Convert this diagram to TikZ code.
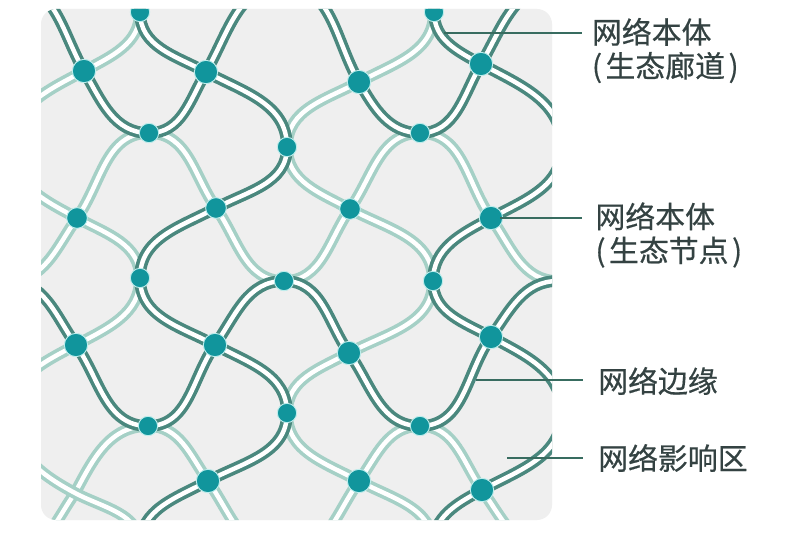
\documentclass[tikz,border=0pt]{standalone}
\usepackage{fontspec}
\newfontfamily\cjk[FakeBold=0.5]{Noto Sans CJK SC}
\definecolor{dkline}{HTML}{4A887E}
\definecolor{ltline}{HTML}{A5D0C6}
\definecolor{dotc}{HTML}{11959C}
\definecolor{halo}{HTML}{BDEDEC}
\definecolor{panel}{HTML}{EFEFEF}
\definecolor{txt}{HTML}{344242}
\definecolor{leader}{HTML}{386C60}
\begin{document}
\begin{tikzpicture}[x=0.03cm,y=0.03cm,
  dk/.style={draw=dkline, double=white, line width=3.1pt, double distance=3.8pt},
  lt/.style={draw=ltline, double=white, line width=3.1pt, double distance=3.8pt},
  bigdot/.style={circle, fill=dotc, draw=halo, line width=0.8pt, inner sep=0pt, minimum size=0.7cm},
  middot/.style={circle, fill=dotc, draw=halo, line width=0.8pt, inner sep=0pt, minimum size=0.62cm},
  smalldot/.style={circle, fill=dotc, draw=halo, line width=0.8pt, inner sep=0pt, minimum size=0.58cm},
  lbl/.style={anchor=west, inner sep=0pt, align=left, text=txt, font=\cjk\fontsize{25.5}{28.9}\selectfont},
  ldr/.style={draw=leader, line width=1.3pt}]
\useasboundingbox (0,0) rectangle (800,-536);
\fill[white] (0,0) rectangle (800,-536);
\fill[panel, rounded corners=12.8pt] (41,-9) rectangle (552,-520);
% lattice points
\coordinate (A0) at (12,15);   \coordinate (A2) at (284,15);  \coordinate (A4) at (558,15);
\coordinate (A1) at (140,-12); \coordinate (A3) at (434,-12);
\coordinate (B0) at (-60,-71); \coordinate (B1) at (84,-71); \coordinate (B2) at (206,-72);
\coordinate (B3) at (359,-82); \coordinate (B4) at (481,-64); \coordinate (B5) at (630,-71);
\coordinate (C0) at (12,-147); \coordinate (C1) at (149,-133); \coordinate (C2) at (287,-147);
\coordinate (C3) at (420,-133); \coordinate (C4) at (562,-147);
\coordinate (Dm) at (-60,-210); \coordinate (D1) at (77,-218); \coordinate (D2) at (216,-208);
\coordinate (D3) at (350,-209); \coordinate (D4) at (491,-218); \coordinate (D5) at (625,-210);
\coordinate (E0) at (8,-281); \coordinate (E1) at (140,-278); \coordinate (E2) at (284,-281);
\coordinate (E3) at (433,-281); \coordinate (E4) at (558,-281);
\coordinate (Fm) at (-60,-345); \coordinate (F1) at (76,-345); \coordinate (F2) at (215,-345);
\coordinate (F3) at (349,-353); \coordinate (F4) at (491,-337); \coordinate (F5) at (625,-345);
\coordinate (G0) at (12,-413); \coordinate (G1) at (148,-426); \coordinate (G2) at (287,-413);
\coordinate (G3) at (420,-426); \coordinate (G4) at (562,-413);
\coordinate (Hm) at (-60,-490); \coordinate (H1) at (75,-493); \coordinate (H2) at (208,-481);
\coordinate (H3) at (359,-481); \coordinate (H4) at (482,-490); \coordinate (H5) at (625,-490);
\coordinate (I0) at (8,-555); \coordinate (I1) at (140,-546); \coordinate (I2) at (284,-555);
\coordinate (I3) at (433,-546); \coordinate (I4) at (558,-555);
\coordinate (J1) at (76,-610); \coordinate (J2) at (213,-610); \coordinate (J3) at (359,-610); \coordinate (J4) at (500,-610);
\coordinate (Z1) at (76,55); \coordinate (Z2) at (213,55); \coordinate (Z3) at (359,55); \coordinate (Z4) at (500,55);
\begin{scope}
\clip[rounded corners=12.8pt] (41,-9) rectangle (552,-520);
% light strands
\draw[lt] (Dm) to[out=-55,in=180] (E0) to[out=0,in=235] (D1) to[out=55,in=180] (C1) to[out=0,in=125] (D2) to[out=-55,in=180] (E2) to[out=0,in=235] (D3) to[out=55,in=180] (C3) to[out=0,in=125] (D4) to[out=-55,in=180] (E4) to[out=0,in=235] (D5);
\draw[lt] (Hm) to[out=-55,in=180] (I0) to[out=0,in=235] (H1) to[out=62,in=180] (G1) to[out=0,in=125] (H2) to[out=-55,in=180] (I2) to[out=0,in=235] (H3) to[out=55,in=180] (G3) to[out=0,in=125] (H4) to[out=-55,in=180] (I4) to[out=0,in=235] (H5);
\draw[lt] (Z1) to[out=-28,in=90] (A1) to[out=-90,in=28] (B1) to[out=-152,in=90] (C0) to[out=-90,in=152] (D1) to[out=-28,in=90] (E1) to[out=-90,in=28] (F1) to[out=-152,in=90] (G0) to[out=-90,in=152] (H1) to[out=-28,in=90] (I1) to[out=-90,in=28] (J1);
\draw[lt] (Z3) to[out=-28,in=90] (A3) to[out=-90,in=28] (B3) to[out=-152,in=90] (C2) to[out=-90,in=152] (D3) to[out=-28,in=90] (E3) to[out=-90,in=28] (F3) to[out=-152,in=90] (G2) to[out=-90,in=152] (H3) to[out=-28,in=90] (I3) to[out=-90,in=28] (J3);
% dark strands
\draw[dk] (B0) to[out=60,in=180] (A0) to[out=0,in=120] (B1) to[out=-60,in=180] (C1) to[out=0,in=240] (B2) to[out=60,in=180] (A2) to[out=0,in=120] (B3) to[out=-60,in=180] (C3) to[out=0,in=240] (B4) to[out=60,in=180] (A4) to[out=0,in=120] (B5);
\draw[dk] (Fm) to[out=55,in=180] (E0) to[out=0,in=125] (F1) to[out=-55,in=180] (G1) to[out=0,in=235] (F2) to[out=55,in=180] (E2) to[out=0,in=125] (F3) to[out=-55,in=180] (G3) to[out=0,in=235] (F4) to[out=55,in=180] (E4) to[out=0,in=125] (F5);
\draw[dk] (Z2) to[out=-152,in=90] (A1) to[out=-90,in=152] (B2) to[out=-28,in=90] (C2) to[out=-90,in=28] (D2) to[out=-152,in=90] (E1) to[out=-90,in=152] (F2) to[out=-28,in=90] (G2) to[out=-90,in=28] (H2) to[out=-152,in=90] (I1) to[out=-90,in=152] (J2);
\draw[dk] (Z4) to[out=-152,in=90] (A3) to[out=-90,in=152] (B4) to[out=-28,in=90] (C4) to[out=-90,in=28] (D4) to[out=-152,in=90] (E3) to[out=-90,in=152] (F4) to[out=-28,in=90] (G4) to[out=-90,in=28] (H4) to[out=-152,in=90] (I3) to[out=-90,in=152] (J4);
% nodes
\foreach \p in {B1,B2,B3,B4,D4,F1,F2,F3,F4,H2,H3,H4} \node[bigdot] (n\p) at (\p) {};
\foreach \p in {D1,D2,D3} \node[middot] (n\p) at (\p) {};
\foreach \p in {A1,A3,C1,C2,C3,E1,E2,E3,G1,G2,G3} \node[smalldot] (n\p) at (\p) {};
\end{scope}
% labels
\node[lbl, outer sep=8.5pt] (T1) at (582,-50.5) {网络本体\\(\kern3pt生态廊道\kern3pt)};
\node[lbl, outer sep=11.5pt] (T2) at (582,-235) {网络本体\\(\kern3pt生态节点\kern3pt)};
\node[lbl, outer sep=13pt] (T3) at (583,-381) {网络边缘};
\node[lbl, outer sep=13pt] (T4) at (583,-458) {网络影响区};
\coordinate (k1) at (444,-33);
\coordinate (k2) at (500,-218);
\coordinate (k3) at (476,-380);
\coordinate (k4) at (507,-458);
\draw[ldr] (k1) -- (k1 -| T1.west);
\draw[ldr] (k2) -- (k2 -| T2.west);
\draw[ldr] (k3) -- (k3 -| T3.west);
\draw[ldr] (k4) -- (k4 -| T4.west);
\end{tikzpicture}
\end{document}
